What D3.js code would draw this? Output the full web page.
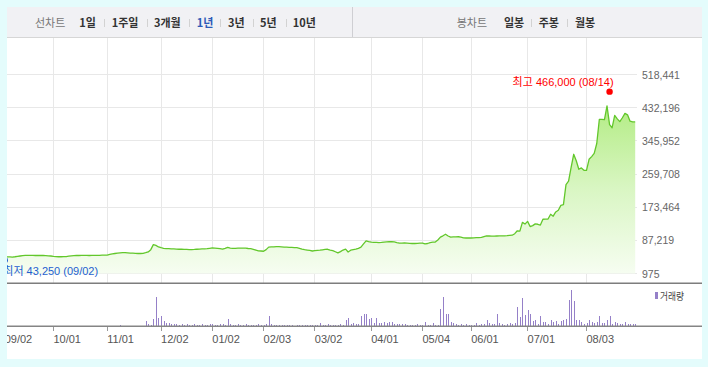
<!DOCTYPE html>
<html><head><meta charset="utf-8">
<script src="https://cdn.jsdelivr.net/npm/d3@7"></script>
<style>
html,body{margin:0;padding:0;background:#e4fcfc;}
svg{display:block;}
</style></head><body>
<svg id="c" width="708" height="367"></svg>
<script>
// ---- data ----
const tickLabels = ["09/02","10/01","11/01","12/02","01/02","02/03","03/02","04/01","05/04","06/01","07/01","08/03"];
const tickIndex  = [0, 19, 40, 61, 81, 101, 121, 143, 163, 182, 204, 227];
const yTickValues = [975, 87219, 173464, 259708, 345952, 432196, 518441];
const periodItems = ["1일","1주일","3개월","1년","3년","5년","10년"];
const candleItems = ["일봉","주봉","월봉"];
const selectedPeriod = "1년";
// daily closing prices (trading days 2019-09-02 .. 2020-08-31)
const prices = [
 44500,44000,44200,43800,44500,45500,46500,47500,48000,48300,
 48000,48200,47800,48000,47800,47800,47500,47000,46500,45500,
 44800,44500,44500,44600,45000,46000,47000,47500,48000,47800,
 48000,48200,48000,47800,48000,48200,48000,48300,48500,48800,
 49000,50500,52000,53000,54000,54500,55000,55000,54500,54000,
 54000,53500,53000,53000,53500,55000,57000,63000,76000,74000,
 70000,68000,66500,65800,65500,65000,64800,64500,64000,64200,
 63800,63500,63000,63200,63500,64000,64500,64800,64800,65500,
 66500,67500,67000,66500,65500,64200,66500,69000,67000,66500,
 66500,67000,67200,67000,66800,66000,65500,64000,62000,60000,
 59500,58800,63000,69500,70000,70300,70800,70600,70200,69800,
 69500,69000,68800,68300,68000,66500,64500,63000,62000,61000,
 59500,60500,61000,61500,62500,63500,64000,62000,60500,57500,
 54500,58000,62000,64500,57000,61500,63000,64500,66500,69500,
 78000,86000,84000,82500,82000,81800,81500,81800,82500,83000,
 83500,83600,83000,81500,80200,79800,80500,80000,79500,79000,
 79000,79300,80000,80200,78000,79000,81500,82500,82800,88000,
 95500,99000,103000,98500,95800,96000,96300,96500,95500,93800,
 93300,93500,93300,93500,94000,94500,95000,97000,99000,98500,
 98000,98200,98500,98800,99000,99000,99300,100000,100500,104500,
 112000,111000,134000,129500,136500,123000,125500,130000,129000,127000,
 142000,142300,142700,155000,150000,161000,165500,178000,180000,232000,
 241000,277000,311000,294000,272000,275500,269500,269000,298000,305000,
 313500,339000,401500,402000,401000,437000,388000,380000,412000,403000,
 396000,406000,417500,413500,397000,395000,395000
];
// daily volume (thousand shares, estimated)
const volumes = [
 0,0,0,0,0,0,0,0,0,0,
 0,0,0,0,0,0,0,0,0,0,
 0,0,0,0,0,0,0,0,0,0,
 0,0,0,0,0,0,0,0,0,0,
 0,0,0,0,0,13,0,0,0,0,
 0,0,0,0,0,53,23,13,73,293,
 83,103,53,33,33,23,23,23,13,23,
 13,17,13,13,17,13,13,23,13,13,
 17,23,13,13,17,23,13,73,23,13,
 13,17,13,13,17,13,13,13,13,17,
 13,13,17,103,23,13,13,13,13,13,
 13,13,13,0,13,13,13,13,13,13,
 13,13,13,33,13,13,23,13,13,13,
 13,23,13,63,83,23,33,23,23,103,
 123,123,73,83,33,83,33,33,43,33,
 43,43,23,23,23,23,23,13,13,13,
 13,23,13,13,43,13,13,33,13,13,
 173,293,123,123,43,33,23,13,23,13,
 23,13,13,13,33,13,23,23,63,33,
 23,23,123,33,23,13,23,33,23,33,
 193,93,283,113,163,123,53,63,23,103,
 43,43,23,63,43,53,23,53,63,73,
 263,363,253,63,63,43,23,33,63,43,
 33,43,103,33,33,63,103,23,43,33,
 23,23,43,23,23,23,23
];
const highMark = {index: 236, value: 466000, label: "최고 466,000 (08/14)"};
const lowMark  = {index: 0,   value: 43250,  label: "최저 43,250 (09/02)"};
const volumeLegend = "거래량";

// ---- drawing ----
const svg = d3.select("#c");
const FONT = "'Liberation Sans', Arial, 'Noto Sans CJK KR', sans-serif";
const KFONT = "'Noto Sans CJK KR', 'Liberation Sans', sans-serif";

// white panel
svg.append("rect").attr("x",7).attr("y",7).attr("width",695).attr("height",352).attr("fill","#fff");

// header
svg.append("rect").attr("x",7).attr("y",7).attr("width",695).attr("height",30).attr("fill","#f1f1f4");
svg.append("line").attr("x1",7).attr("x2",702).attr("y1",37.5).attr("y2",37.5).attr("stroke","#d6d6d6");
svg.append("line").attr("x1",352.5).attr("x2",352.5).attr("y1",7).attr("y2",37).attr("stroke","#cfcfd3");

const hdrBase = 26.6;
svg.append("text").attr("x",35).attr("y",hdrBase).attr("font-family",KFONT).attr("font-size",11)
  .attr("fill","#777").text("선차트");
const periodX = [79.3, 111.7, 154, 196.7, 228, 260, 292.7];
const periodSepX = [104, 146.7, 189.3, 220.3, 253.3, 285.7];
periodItems.forEach((t,i)=>{
  svg.append("text").attr("x",periodX[i]).attr("y",hdrBase).attr("font-family",KFONT)
    .attr("font-size",11).attr("font-weight","bold")
    .attr("fill", t===selectedPeriod ? "#2c5bb8" : "#333").text(t);
});
periodSepX.forEach(x=>svg.append("line").attr("x1",Math.round(x)+0.5).attr("x2",Math.round(x)+0.5)
  .attr("y1",19).attr("y2",27).attr("stroke","#d2d2d2"));
svg.append("text").attr("x",456.7).attr("y",hdrBase).attr("font-family",KFONT).attr("font-size",11)
  .attr("fill","#777").text("봉차트");
const candleX = [504, 538.7, 575];
const candleSepX = [531, 566.7];
candleItems.forEach((t,i)=>{
  svg.append("text").attr("x",candleX[i]).attr("y",hdrBase).attr("font-family",KFONT)
    .attr("font-size",11).attr("font-weight","bold").attr("fill","#333").text(t);
});
candleSepX.forEach(x=>svg.append("line").attr("x1",Math.round(x)+0.5).attr("x2",Math.round(x)+0.5)
  .attr("y1",19).attr("y2",27).attr("stroke","#d2d2d2"));

// scales
const x = d3.scaleLinear().domain([0, prices.length-1]).range([4.7, 635.2]);
const y = d3.scaleLinear().domain([975, 518441]).range([273.5, 74.5]);
const v = d3.scaleLinear().domain([0, d3.max(volumes)]).range([326, 290]);

// clip
const defs = svg.append("defs");
defs.append("clipPath").attr("id","clip").append("rect").attr("x",7).attr("y",38).attr("width",695).attr("height",321);
const grad = defs.append("linearGradient").attr("id","areaGrad").attr("gradientUnits","userSpaceOnUse")
  .attr("x1",0).attr("x2",0).attr("y1",y(440000)).attr("y2",y(975));
grad.append("stop").attr("offset",0).attr("stop-color","#b3ec84");
grad.append("stop").attr("offset",0.5).attr("stop-color","#d9f6c3");
grad.append("stop").attr("offset",1).attr("stop-color","#f6fdf1");

const g = svg.append("g").attr("clip-path","url(#clip)");

// grid
g.selectAll(".hg").data(yTickValues).join("line")
  .attr("x1",7).attr("x2",637)
  .attr("y1",d=>Math.floor(y(d))+0.5).attr("y2",d=>Math.floor(y(d))+0.5)
  .attr("stroke","#e8e8e8");
g.selectAll(".vg").data(tickIndex.slice(1)).join("line")
  .attr("x1",d=>Math.floor(x(d))+0.5).attr("x2",d=>Math.floor(x(d))+0.5)
  .attr("y1",38).attr("y2",283).attr("stroke","#e8e8e8");

// area + line
const area = d3.area().x((d,i)=>x(i)).y0(y(975)).y1(d=>y(d));
const line = d3.line().x((d,i)=>x(i)).y(d=>y(d));
g.append("path").datum(prices).attr("d",area).attr("fill","url(#areaGrad)");
g.append("path").datum(prices).attr("d",line).attr("fill","none")
  .attr("stroke","#62c72b").attr("stroke-width",1.3).attr("stroke-linejoin","round");

// high / low markers
g.append("circle").attr("cx",x(highMark.index)).attr("cy",y(highMark.value)-3).attr("r",3.2).attr("fill","#f00");
g.append("text").attr("x",x(highMark.index)+4).attr("y",y(highMark.value)-9)
  .attr("text-anchor","end").attr("font-family",FONT).attr("font-size",11).attr("fill","#f00").text(highMark.label);
g.append("circle").attr("cx",x(lowMark.index)).attr("cy",y(lowMark.value)+3).attr("r",3.2).attr("fill","#1e5fd0");
g.append("text").attr("x",x(lowMark.index)-1.4).attr("y",y(lowMark.value)+18)
  .attr("font-family",FONT).attr("font-size",11).attr("fill","#1e5fd0").text(lowMark.label);

// y labels
svg.selectAll(".yl").data(yTickValues).join("text")
  .attr("x",642).attr("y",d=>y(d)+4)
  .attr("font-family",FONT).attr("font-size",10.5).attr("fill","#666")
  .text(d=>d3.format(",")(d));

// separator & volume baseline
svg.append("line").attr("x1",7).attr("x2",702).attr("y1",283.2).attr("y2",283.2).attr("stroke","#7d7d7d").attr("stroke-width",1.6);

// volume bars
g.selectAll(".vb").data(volumes).join("rect")
  .attr("x",(d,i)=>Math.round(x(i)))
  .attr("width",1)
  .attr("y",d=>Math.round(v(d)))
  .attr("height",d=>Math.max(0, 326 - Math.round(v(d))))
  .attr("fill","#9580c8").attr("shape-rendering","crispEdges");

svg.append("line").attr("x1",7).attr("x2",702).attr("y1",326.3).attr("y2",326.3).attr("stroke","#858585").attr("stroke-width",1.6);

// x ticks + labels
g.selectAll(".xt").data(tickIndex).join("line")
  .attr("x1",d=>Math.floor(x(d))+0.5).attr("x2",d=>Math.floor(x(d))+0.5)
  .attr("y1",327).attr("y2",331).attr("stroke","#999");
g.selectAll(".xl").data(tickLabels).join("text")
  .attr("x",(d,i)=>x(tickIndex[i]))
  .attr("y",343)
  .attr("font-family",FONT).attr("font-size",11).attr("fill","#555")
  .text(d=>d);

// volume legend
svg.append("rect").attr("x",655).attr("y",292).attr("width",3).attr("height",7).attr("fill","#9580c8");
svg.append("text").attr("x",660).attr("y",299.5).attr("font-family",KFONT).attr("font-size",10)
  .attr("textLength",24).attr("lengthAdjust","spacingAndGlyphs").attr("fill","#444").text(volumeLegend);
</script>
</body></html>
